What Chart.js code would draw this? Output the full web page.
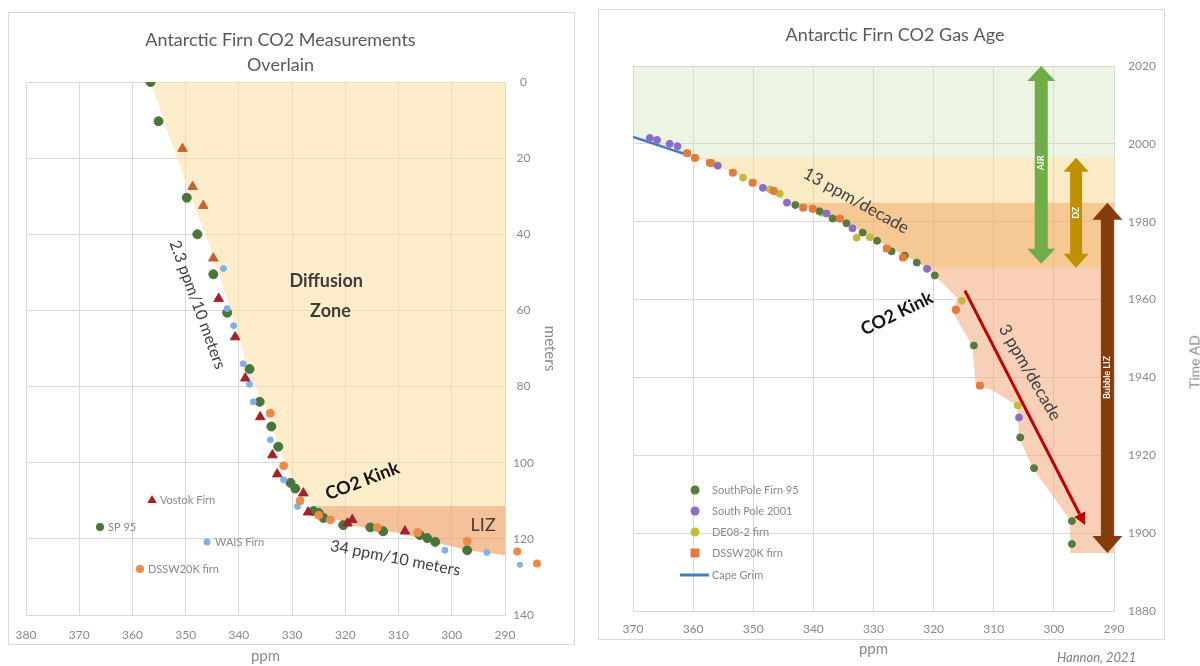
<!DOCTYPE html>
<html lang="en">
<head>
<meta charset="UTF-8">
<title>Antarctic Firn CO2</title>
<script src="https://cdn.jsdelivr.net/npm/chart.js@4.4.1/dist/chart.umd.min.js"></script>
<style>
  body { margin:0; width:1200px; height:666px; position:relative; overflow:hidden; background:#fff; font-family:Lato, sans-serif; }
  .box { position:absolute; border:1px solid #d9d9d9; box-sizing:border-box; }
  .wrap { position:absolute; top:0; height:666px; }
  #timead { position:absolute; left:1194px; top:362px; transform:translate(-50%,-50%) rotate(-90deg); color:#888; font-size:14px; white-space:nowrap; }
  #credit { position:absolute; left:1057px; top:649px; color:#7f7f7f; font-size:13px; font-style:italic; }
</style>
</head>
<body>
<div class="box" style="left:8px;top:12px;width:567px;height:633px"></div>
<div class="box" style="left:598px;top:9px;width:567px;height:631px"></div>
<div class="wrap" style="left:0;width:590px"><canvas id="left"></canvas></div>
<div class="wrap" style="left:590px;width:610px"><canvas id="right"></canvas></div>
<div id="timead">Time AD</div>
<div id="credit">Hannon, 2021</div>

<script>
// ---- left panel: CO2 (ppm) against firn depth (m) ----
const sp95Ppm   = [356.6, 355.1, 349.8, 347.8, 344.8, 342.2, 338.0, 336.1, 333.9, 332.6, 330.3, 329.4, 326.0, 325.0, 324.1, 320.4, 315.3, 312.9, 306.0, 304.6, 303.1, 297.1];
const sp95Depth = [0, 10.3, 30.4, 40.0, 50.5, 60.6, 75.4, 84.0, 90.5, 95.8, 105.3, 106.8, 112.7, 113.2, 114.5, 116.4, 117.0, 118.0, 119.0, 119.8, 120.8, 123.0];
const vostokPpm   = [350.6, 348.7, 346.7, 344.8, 343.8, 340.7, 338.8, 336.0, 333.7, 332.8, 327.9, 327.0, 319.6, 318.7, 308.8];
const vostokDepth = [17.5, 27.5, 32.5, 46.3, 56.9, 67.0, 77.8, 88.0, 98.0, 103.0, 108.0, 113.0, 115.9, 115.0, 118.0];
const waisPpm   = [342.9, 342.2, 341.0, 339.2, 338.0, 337.3, 334.1, 331.6, 329.0, 301.3, 293.4, 287.2];
const waisDepth = [49.0, 59.5, 64.0, 74.0, 79.4, 84.0, 94.0, 104.5, 111.5, 123.0, 123.6, 126.8];
const dsswPpm   = [334.1, 331.6, 328.5, 325.0, 322.8, 314.0, 306.4, 297.1, 287.7, 284.0];
const dsswDepth = [87.0, 100.8, 110.0, 113.8, 115.0, 117.0, 118.3, 120.6, 123.3, 126.5];
// shaded zones (outline in ppm / depth)
const diffusionPpm   = [356.6, 290, 290, 326.0, 327.9, 330.3, 332.2, 334.7, 338.4, 339.7, 345.3, 349.7];
const diffusionDepth = [0, 0, 111.4, 111.4, 107.9, 103.4, 97.4, 86.8, 75.4, 68.3, 43.7, 27.8];
const lizPpm   = [326.0, 290, 290, 297.1, 302.2, 309.7, 319.1, 323.4];
const lizDepth = [111.4, 111.4, 124.3, 123.0, 121.2, 118.5, 116.4, 113.8];

// ---- right panel: CO2 (ppm) against gas age (year AD) ----
const spf95Ppm  = [343.0, 339.0, 336.8, 334.5, 331.8, 329.4, 327.0, 324.8, 322.8, 319.8, 313.3, 305.6, 303.3, 297.0, 297.0];
const spf95Year = [1984.3, 1982.7, 1980.8, 1979.6, 1977.2, 1975.1, 1972.4, 1971.3, 1969.5, 1966.2, 1948.2, 1924.6, 1916.7, 1903.1, 1897.2];
const sp2001Ppm  = [367.2, 366.0, 363.9, 362.6, 355.9, 348.4, 344.4, 337.8, 333.5, 321.1, 305.8];
const sp2001Year = [2001.5, 2001.0, 2000.0, 1999.4, 1994.4, 1988.7, 1984.9, 1982.1, 1978.3, 1967.9, 1929.7];
const de08Ppm  = [356.8, 351.7, 347.2, 345.6, 338.6, 332.8, 330.6, 315.3, 306.0];
const de08Year = [1995.0, 1991.3, 1988.3, 1987.2, 1982.3, 1975.9, 1976.0, 1959.7, 1932.8];
const dssw2Ppm  = [361.0, 359.7, 357.2, 353.4, 350.1, 346.6, 341.7, 340.1, 335.6, 327.8, 325.1, 316.3, 312.3];
const dssw2Year = [1997.6, 1996.4, 1995.1, 1992.6, 1990.0, 1987.9, 1983.6, 1983.3, 1980.8, 1973.1, 1970.8, 1957.4, 1937.9];
const capeGrimPpm  = [370.0, 367.0, 364.0, 362.0, 360.5];
const capeGrimYear = [2001.8, 2000.3, 1998.7, 1997.7, 1996.9];
// shaded bands (outline in ppm / year)
const airPpm  = [370, 290, 290, 359.7, 363.9, 367.2, 370];
const airYear = [2020, 2020, 1996.4, 1996.4, 1999.2, 2000.7, 2001.8];
const dzPpm  = [359.7, 290, 290, 344.4, 348.4, 351.7, 355.9];
const dzYear = [1996.4, 1996.4, 1984.9, 1984.9, 1988.7, 1991.3, 1994.4];
const upperLizPpm  = [344.4, 290, 290, 321.1, 324.8, 329.4, 335.6, 340.1];
const upperLizYear = [1984.9, 1984.9, 1968.2, 1968.2, 1971.3, 1975.1, 1980.8, 1983.3];
const bubblePpm  = [321.1, 290, 290, 297.3, 297.3, 303.5, 305.8, 306.1, 310.3, 313.0, 313.6, 317.0, 316.0, 319.8];
const bubbleYear = [1968.2, 1968.2, 1894.9, 1894.9, 1903.3, 1916.7, 1924.6, 1932.8, 1936.7, 1937.9, 1948.2, 1957.2, 1960.3, 1966.2];

const pts = (xs, ys) => xs.map((x, i) => ({x, y: ys[i]}));

const FONT = 'Lato';
const TICK = '#8a8a8a';
const GRID = '#d9d9d9';

function drawNotes(chart, notes) {
  const {ctx, scales: {x, y}} = chart;
  notes.forEach(n => {
    ctx.save();
    ctx.translate(x.getPixelForValue(n.x), y.getPixelForValue(n.y));
    ctx.rotate(n.rot * Math.PI / 180);
    ctx.font = n.font;
    ctx.fillStyle = n.color;
    ctx.textAlign = 'center';
    ctx.textBaseline = 'middle';
    ctx.fillText(n.text, 0, 0);
    ctx.restore();
  });
}

function drawMarker(ctx, shape, color, r, x, y) {
  ctx.fillStyle = color;
  ctx.beginPath();
  if (shape === 'triangle') {
    ctx.moveTo(x, y - r);
    ctx.lineTo(x + r * 0.95, y + r * 0.6);
    ctx.lineTo(x - r * 0.95, y + r * 0.6);
    ctx.closePath();
  } else if (shape === 'rect') {
    ctx.rect(x - r, y - r, 2 * r, 2 * r);
  } else {
    ctx.arc(x, y, r, 0, Math.PI * 2);
  }
  ctx.fill();
}

// Chart.js skips points outside the plot area; the source figure shows a few past 290 ppm
function drawOverflow(chart) {
  const {ctx, chartArea, scales: {x, y}} = chart;
  ctx.save();
  chart.data.datasets.forEach(ds => {
    if (ds.clip !== false) return;
    ds.data.forEach(p => {
      const px = x.getPixelForValue(p.x), py = y.getPixelForValue(p.y);
      if (px > chartArea.right + 1) drawMarker(ctx, 'circle', ds.backgroundColor, ds.pointRadius, px, py);
    });
  });
  ctx.restore();
}

function drawLegend(chart, items) {
  const {ctx, chartArea} = chart;
  ctx.save();
  ctx.font = '11px ' + FONT;
  ctx.textBaseline = 'middle';
  items.forEach(it => {
    const ds = chart.data.datasets[it.ds];
    const x = chartArea.left + it.dx, y = chartArea.top + it.dy;
    if (it.shape === 'line') {
      ctx.strokeStyle = it.color;
      ctx.lineWidth = 3;
      ctx.beginPath();
      ctx.moveTo(x - 15, y);
      ctx.lineTo(x + 14, y);
      ctx.stroke();
    } else {
      drawMarker(ctx, it.shape, it.color, it.r, x, y);
    }
    ctx.fillStyle = TICK;
    ctx.fillText(ds.label, x + it.tx, y);
  });
  ctx.restore();
}

function fatArrow(ctx, cx, yTop, yBot, a) {
  const s = a.shaft / 2, h = a.head / 2, L = a.headLen;
  ctx.beginPath();
  ctx.moveTo(cx, yTop);
  ctx.lineTo(cx + h, yTop + L);
  ctx.lineTo(cx + s, yTop + L);
  ctx.lineTo(cx + s, yBot - L);
  ctx.lineTo(cx + h, yBot - L);
  ctx.lineTo(cx, yBot);
  ctx.lineTo(cx - h, yBot - L);
  ctx.lineTo(cx - s, yBot - L);
  ctx.lineTo(cx - s, yTop + L);
  ctx.lineTo(cx - h, yTop + L);
  ctx.closePath();
  ctx.fillStyle = a.color;
  ctx.fill();
}

function scaleOpts(min, max, step, tickExtra, extra) {
  return Object.assign({
    type: 'linear', min, max,
    grid: {color: GRID, drawTicks: false},
    border: {color: GRID},
    ticks: Object.assign({stepSize: step, color: TICK, font: {family: FONT, size: 12}, callback: v => String(v)}, tickExtra)
  }, extra);
}

// ---------- left chart ----------
const leftNotes = [
  {text: 'Diffusion', x: 323.6, y: 52.4, rot: 0, font: 'bold 18px ' + FONT, color: '#3d3d3d'},
  {text: 'Zone', x: 322.8, y: 60.3, rot: 0, font: 'bold 18px ' + FONT, color: '#3d3d3d'},
  {text: '2.3 ppm/10 meters', x: 347.8, y: 58.5, rot: 70, font: '16px ' + FONT, color: '#404040'},
  {text: 'CO2 Kink', x: 316.8, y: 104.8, rot: -21, font: 'bold 18px ' + FONT, color: '#141414'},
  {text: 'LIZ', x: 294.1, y: 116.4, rot: 0, font: '18px ' + FONT, color: '#4a3a30'},
  {text: '34 ppm/10 meters', x: 310.6, y: 125.1, rot: 11, font: '16px ' + FONT, color: '#404040'}
];
const leftLegend = [
  {ds: 5, shape: 'triangle', color: '#a3222a', r: 5, dx: 126, dy: 418, tx: 8},
  {ds: 2, shape: 'circle', color: '#48763a', r: 4, dx: 74, dy: 445, tx: 8},
  {ds: 3, shape: 'circle', color: '#7fb2e2', r: 3.5, dx: 181, dy: 460, tx: 8},
  {ds: 4, shape: 'circle', color: '#ef8b48', r: 4, dx: 114, dy: 487, tx: 8}
];

new Chart('left', {
  type: 'scatter',
  data: {
    datasets: [
      {label: 'Diffusion Zone', data: pts(diffusionPpm, diffusionDepth), showLine: true, fill: 'shape',
       backgroundColor: 'rgba(251,222,160,0.55)', borderColor: 'transparent', pointRadius: 0, order: 10},
      {label: 'LIZ', data: pts(lizPpm, lizDepth), showLine: true, fill: 'shape',
       backgroundColor: 'rgba(240,160,100,0.65)', borderColor: 'transparent', pointRadius: 0, order: 9},
      {label: 'SP 95', data: pts(sp95Ppm, sp95Depth), backgroundColor: '#48763a', borderColor: '#48763a',
       pointRadius: 4.5, order: 3},
      {label: 'WAIS Firn', data: pts(waisPpm, waisDepth), backgroundColor: '#7fb2e2', borderColor: '#7fb2e2',
       pointRadius: 3, order: 2, clip: false},
      {label: 'DSSW20K firn', data: pts(dsswPpm, dsswDepth), backgroundColor: '#ef8b48', borderColor: '#ef8b48',
       pointRadius: 4, order: 1, clip: false},
      {label: 'Vostok Firn', data: pts(vostokPpm, vostokDepth), pointStyle: 'triangle', pointRadius: 5.5,
       backgroundColor: c => (c.raw && c.raw.y < 50) ? '#c8612e' : '#a3222a',
       borderColor: c => (c.raw && c.raw.y < 50) ? '#c8612e' : '#a3222a', order: 0}
    ]
  },
  options: {
    responsive: true, maintainAspectRatio: false, animation: false,
    layout: {padding: {left: 26, right: 55, top: 0, bottom: 0}},
    plugins: {
      legend: {display: false},
      tooltip: {enabled: false},
      title: {display: true, text: ['Antarctic Firn CO2 Measurements', 'Overlain'], color: '#595959',
              font: {family: FONT, size: 18, weight: 'normal', lineHeight: 1.4}, padding: {top: 27.4, bottom: 4.2}}
    },
    scales: {
      x: scaleOpts(290, 380, 10, {padding: 12.5}, {
        reverse: true,
        title: {display: true, text: 'ppm', color: TICK, font: {family: FONT, size: 15}, padding: {top: 0, bottom: 1}},
        afterFit: s => { s.height = 51; }
      }),
      y: scaleOpts(0, 140, 20, {padding: 8, crossAlign: 'center'}, {
        position: 'right', reverse: true,
        title: {display: true, text: 'meters', color: TICK, font: {family: FONT, size: 15}, padding: {top: -24, bottom: 0}},
        afterFit: s => { s.width = 30; }
      })
    }
  },
  plugins: [{
    id: 'leftNotes',
    afterDatasetsDraw(chart) { drawOverflow(chart); drawNotes(chart, leftNotes); },
    afterDraw(chart) { drawLegend(chart, leftLegend); }
  }]
});

// ---------- right chart ----------
const bandArrows = [
  {label: 'AIR', ppm: 302.1, from: 2020, to: 1969.2, labelYear: 1995.1, color: '#70ad47', shaft: 13, head: 28, headLen: 15},
  {label: 'DZ', ppm: 296.3, from: 1996.4, to: 1968.2, labelYear: 1982.3, color: '#bf9000', shaft: 12, head: 25, headLen: 14},
  {label: 'Bubble LIZ', ppm: 291.1, from: 1984.9, to: 1894.9, labelYear: 1940, color: '#843c0c', shaft: 13, head: 30, headLen: 17}
];
const trendArrow = {fromPpm: 314.8, fromYear: 1962.3, toPpm: 294.8, toYear: 1902.1, color: '#c00000'};
const rightNotes = [
  {text: '13 ppm/decade', x: 332.9, y: 1985.4, rot: 29, font: '17px ' + FONT, color: '#404040'},
  {text: 'CO2 Kink', x: 326.1, y: 1956.4, rot: -26, font: 'bold 18px ' + FONT, color: '#141414'},
  {text: '3 ppm/decade', x: 304.0, y: 1941.3, rot: 60, font: '17px ' + FONT, color: '#404040'}
];
const rightLegend = [
  {ds: 4, shape: 'circle', color: '#557b3e', r: 4.5, dx: 62, dy: 424, tx: 17},
  {ds: 5, shape: 'circle', color: '#8d6cc4', r: 4.5, dx: 62, dy: 445, tx: 17},
  {ds: 6, shape: 'circle', color: '#c4bb3c', r: 4.5, dx: 62, dy: 466, tx: 17},
  {ds: 7, shape: 'rect', color: '#e27a3c', r: 4.5, dx: 62, dy: 487, tx: 17},
  {ds: 8, shape: 'line', color: '#3f7fc2', dx: 62, dy: 509, tx: 17}
];

function drawRightExtras(chart) {
  const {ctx, scales: {x, y}} = chart;
  ctx.save();
  bandArrows.forEach(a => {
    const cx = x.getPixelForValue(a.ppm);
    fatArrow(ctx, cx, y.getPixelForValue(a.from), y.getPixelForValue(a.to), a);
    ctx.save();
    ctx.translate(cx, y.getPixelForValue(a.labelYear));
    ctx.rotate(-Math.PI / 2);
    ctx.fillStyle = '#ffffff';
    ctx.font = 'bold 9px ' + FONT;
    ctx.textAlign = 'center';
    ctx.textBaseline = 'middle';
    ctx.fillText(a.label, 0, 0);
    ctx.restore();
  });
  // red trend arrow
  const x1 = x.getPixelForValue(trendArrow.fromPpm), y1 = y.getPixelForValue(trendArrow.fromYear);
  const x2 = x.getPixelForValue(trendArrow.toPpm), y2 = y.getPixelForValue(trendArrow.toYear);
  const ang = Math.atan2(y2 - y1, x2 - x1), hl = 12, hw = 6;
  ctx.strokeStyle = trendArrow.color;
  ctx.fillStyle = trendArrow.color;
  ctx.lineWidth = 3;
  ctx.beginPath();
  ctx.moveTo(x1, y1);
  ctx.lineTo(x2 - hl * Math.cos(ang), y2 - hl * Math.sin(ang));
  ctx.stroke();
  ctx.beginPath();
  ctx.moveTo(x2, y2);
  ctx.lineTo(x2 - hl * Math.cos(ang) + hw * Math.sin(ang), y2 - hl * Math.sin(ang) - hw * Math.cos(ang));
  ctx.lineTo(x2 - hl * Math.cos(ang) - hw * Math.sin(ang), y2 - hl * Math.sin(ang) + hw * Math.cos(ang));
  ctx.closePath();
  ctx.fill();
  ctx.restore();
  drawNotes(chart, rightNotes);
}

const band = (label, xs, ys, color) => ({label, data: pts(xs, ys), showLine: true, fill: 'shape',
  backgroundColor: color, borderColor: 'transparent', pointRadius: 0, order: 10});

new Chart('right', {
  type: 'scatter',
  data: {
    datasets: [
      band('AIR', airPpm, airYear, 'rgba(200,225,175,0.35)'),
      band('DZ', dzPpm, dzYear, 'rgba(245,215,140,0.5)'),
      band('LIZ', upperLizPpm, upperLizYear, 'rgba(240,170,90,0.65)'),
      band('Bubble LIZ', bubblePpm, bubbleYear, 'rgba(243,170,125,0.55)'),
      {label: 'SouthPole Firn 95', data: pts(spf95Ppm, spf95Year), backgroundColor: '#557b3e', borderColor: '#557b3e', pointRadius: 3.5, order: 1},
      {label: 'South Pole 2001', data: pts(sp2001Ppm, sp2001Year), backgroundColor: '#8d6cc4', borderColor: '#8d6cc4', pointRadius: 3.5, order: 2},
      {label: 'DE08-2 firn', data: pts(de08Ppm, de08Year), backgroundColor: '#c4bb3c', borderColor: '#c4bb3c', pointRadius: 3.5, order: 3},
      {label: 'DSSW20K firn', data: pts(dssw2Ppm, dssw2Year), pointStyle: 'rectRounded', backgroundColor: '#e27a3c', borderColor: '#e27a3c', pointRadius: 4, order: 0},
      {label: 'Cape Grim', data: pts(capeGrimPpm, capeGrimYear), showLine: true, borderColor: '#3f7fc2', borderWidth: 2.5, pointRadius: 0, order: 5}
    ]
  },
  options: {
    responsive: true, maintainAspectRatio: false, animation: false,
    layout: {padding: {left: 43, right: 43, top: 0, bottom: 0}},
    plugins: {
      legend: {display: false},
      tooltip: {enabled: false},
      title: {display: true, text: 'Antarctic Firn CO2 Gas Age', color: '#595959',
              font: {family: FONT, size: 18, weight: 'normal', lineHeight: 1.4}, padding: {top: 22.4, bottom: 18.4}}
    },
    scales: {
      x: scaleOpts(290, 370, 10, {padding: 11}, {
        reverse: true,
        title: {display: true, text: 'ppm', color: TICK, font: {family: FONT, size: 15}, padding: {top: 0, bottom: 8}},
        afterFit: s => { s.height = 55; }
      }),
      y: scaleOpts(1880, 2020, 20, {padding: 14}, {
        position: 'right',
        afterFit: s => { s.width = 43; }
      })
    }
  },
  plugins: [{
    id: 'rightExtras',
    afterDatasetsDraw(chart) { drawRightExtras(chart); },
    afterDraw(chart) { drawLegend(chart, rightLegend); }
  }]
});
</script>
</body>
</html>
